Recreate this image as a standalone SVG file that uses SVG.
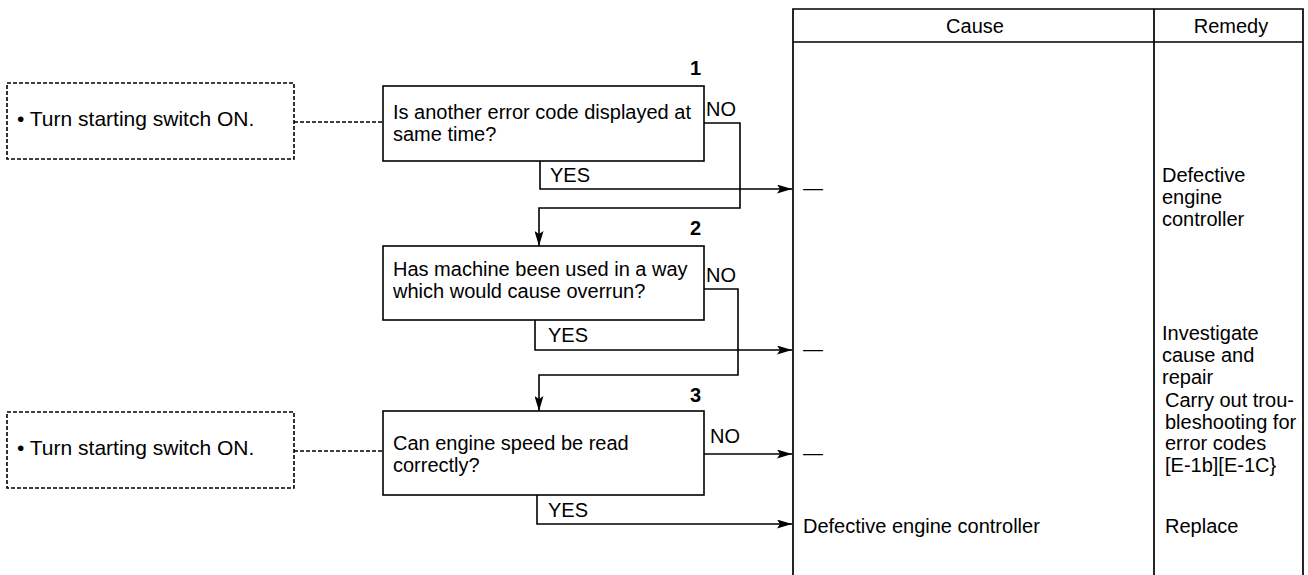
<svg xmlns="http://www.w3.org/2000/svg" width="1308" height="575" viewBox="0 0 1308 575">
  <defs>
    <marker id="arrow" viewBox="0 0 15 9" refX="15" refY="4.5" markerWidth="15" markerHeight="9" markerUnits="userSpaceOnUse" orient="auto">
      <path d="M0,0 L15,4.5 L0,9 L3,4.5 Z" fill="#000"/>
    </marker>
    <style>
      text { font-family: "Liberation Sans", Arial, sans-serif; font-size: 20px; fill: #000; }
      .num { font-weight: bold; text-anchor: end; }
      .mid { text-anchor: middle; }
      .prep { font-size: 21px; }
      .box { fill: #fff; stroke: #000; stroke-width: 1.6; }
      .note { fill: #fff; stroke: #000; stroke-width: 1.6; stroke-dasharray: 4 2; }
      .link { fill: none; stroke: #000; stroke-width: 1.5; stroke-dasharray: 4 2; }
      .flow { fill: none; stroke: #000; stroke-width: 1.6; }
      .rule { fill: none; stroke: #000; stroke-width: 1.7; }
    </style>
  </defs>
  <rect width="1308" height="575" fill="#fff"/>

  <!-- cause / remedy table -->
  <g id="table">
    <path class="rule" d="M793,575 V9 H1303 V575 M793,42 H1303 M1154,9 V575"/>
    <text class="mid" x="975" y="33">Cause</text>
    <text class="mid" x="1231" y="33">Remedy</text>
  </g>

  <!-- connectors -->
  <g id="connectors">
    <line class="link" x1="294" y1="122" x2="383" y2="122"/>
    <line class="link" x1="294" y1="451" x2="383" y2="451"/>
    <!-- step 1 -->
    <path class="flow" d="M704,123 H740 V208 H539 V246" marker-end="url(#arrow)"/>
    <path class="flow" d="M540,161 V189 H792" marker-end="url(#arrow)"/>
    <!-- step 2 -->
    <path class="flow" d="M704,289 H738 V375 H539 V411" marker-end="url(#arrow)"/>
    <path class="flow" d="M535,320 V350 H792" marker-end="url(#arrow)"/>
    <!-- step 3 -->
    <path class="flow" d="M704,454 H792" marker-end="url(#arrow)"/>
    <path class="flow" d="M537,495 V524 H792" marker-end="url(#arrow)"/>
    <text x="706" y="116">NO</text>
    <text x="550" y="182">YES</text>
    <text x="706" y="282">NO</text>
    <text x="548" y="342">YES</text>
    <text x="710" y="443">NO</text>
    <text x="548" y="517">YES</text>
  </g>

  <!-- preparation notes -->
  <g id="note1">
    <rect class="note" x="7" y="83" width="287" height="76"/>
    <text class="prep" x="17" y="126">• Turn starting switch ON.</text>
  </g>
  <g id="note3">
    <rect class="note" x="7" y="412" width="287" height="76"/>
    <text class="prep" x="17" y="455">• Turn starting switch ON.</text>
  </g>

  <!-- check steps -->
  <g id="step1">
    <rect class="box" x="383" y="86" width="321" height="75"/>
    <text class="num" x="701" y="75">1</text>
    <text x="393" y="119">Is another error code displayed at</text>
    <text x="393" y="141">same time?</text>
  </g>
  <g id="step2">
    <rect class="box" x="383" y="246" width="321" height="74"/>
    <text class="num" x="701" y="235">2</text>
    <text x="393" y="276">Has machine been used in a way</text>
    <text x="393" y="298">which would cause overrun?</text>
  </g>
  <g id="step3">
    <rect class="box" x="383" y="411" width="321" height="84"/>
    <text class="num" x="701" y="402">3</text>
    <text x="393" y="450">Can engine speed be read</text>
    <text x="393" y="472">correctly?</text>
  </g>

  <!-- results -->
  <g id="result1">
    <text x="803" y="195">—</text>
    <text x="1162" y="182">Defective</text>
    <text x="1162" y="204">engine</text>
    <text x="1162" y="226">controller</text>
  </g>
  <g id="result2">
    <text x="803" y="356">—</text>
    <text x="1162" y="340">Investigate</text>
    <text x="1162" y="362">cause and</text>
    <text x="1162" y="384">repair</text>
  </g>
  <g id="result3">
    <text x="803" y="460">—</text>
    <text x="1165" y="407">Carry out trou-</text>
    <text x="1165" y="429">bleshooting for</text>
    <text x="1165" y="450">error codes</text>
    <text x="1165" y="472">[E-1b][E-1C}</text>
  </g>
  <g id="result4">
    <text x="803" y="533">Defective engine controller</text>
    <text x="1165" y="533">Replace</text>
  </g>
</svg>
